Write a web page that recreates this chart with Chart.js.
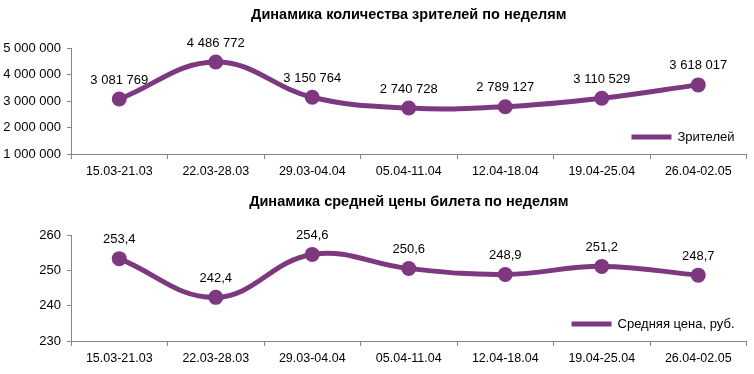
<!DOCTYPE html>
<html lang="ru">

<head>
    <meta charset="UTF-8">
    <script src="https://cdn.jsdelivr.net/npm/chart.js"></script>
    <title>Динамика по неделям</title>
    <style>
        body {
            margin: 0;
            background: #ffffff;
        }

        .box {
            position: absolute;
            left: 0;
            width: 754px;
            height: 187px;
        }
    </style>
</head>

<body>
    <div class="box" style="top: 0px;"><canvas id="viewersChart"></canvas></div>
    <div class="box" style="top: 187px;"><canvas id="priceChart"></canvas></div>
    <script>
        const weeks = ['15.03-21.03', '22.03-28.03', '29.03-04.04', '05.04-11.04', '12.04-18.04', '19.04-25.04', '26.04-02.05'];
        const viewers = [3081769, 4486772, 3150764, 2740728, 2789127, 3110529, 3618017];
        const avgPrice = [253.4, 242.4, 254.6, 250.6, 248.9, 251.2, 248.7];
        const viewersTicks = [1000000, 2000000, 3000000, 4000000, 5000000];
        const priceTicks = [230, 240, 250, 260];

        const purple = '#7d3880';
        const axisGray = '#868686';
        const fontName = "'Liberation Sans', Arial, sans-serif";

        function spaced(v) {
            return String(v).replace(/\B(?=(\d{3})+(?!\d))/g, ' ');
        }
        function comma(v) {
            return v.toFixed(1).replace('.', ',');
        }

        // подписи значений над точками
        const valueLabels = {
            id: 'valueLabels',
            afterDatasetsDraw(chart, args, opts) {
                const ctx = chart.ctx;
                const meta = chart.getDatasetMeta(0);
                ctx.save();
                ctx.font = '13px ' + fontName;
                ctx.fillStyle = '#000000';
                ctx.textAlign = 'center';
                ctx.textBaseline = 'middle';
                meta.data.forEach(function (pt, i) {
                    ctx.fillText(opts.format(chart.data.datasets[0].data[i]), pt.x, pt.y - 19);
                });
                ctx.restore();
            }
        };

        // легенда внутри области графика, справа снизу
        const innerLegend = {
            id: 'innerLegend',
            afterDraw(chart) {
                const ctx = chart.ctx;
                const area = chart.chartArea;
                const text = chart.data.datasets[0].label;
                ctx.save();
                ctx.font = '13px ' + fontName;
                const w = ctx.measureText(text).width;
                const right = area.right - 12;
                const y = area.bottom - 17;
                ctx.fillStyle = '#000000';
                ctx.textAlign = 'right';
                ctx.textBaseline = 'middle';
                ctx.fillText(text, right, y);
                ctx.strokeStyle = purple;
                ctx.lineWidth = 5;
                ctx.beginPath();
                ctx.moveTo(right - w - 46, y);
                ctx.lineTo(right - w - 6, y);
                ctx.stroke();
                ctx.restore();
            }
        };

        function makeChart(id, title, label, values, ticks, format) {
            return new Chart(document.getElementById(id), {
                type: 'line',
                data: {
                    labels: weeks,
                    datasets: [{
                        label: label,
                        data: values,
                        borderColor: purple,
                        backgroundColor: purple,
                        borderWidth: 5,
                        pointRadius: 7.5,
                        pointHoverRadius: 7.5,
                        pointBorderWidth: 0,
                        tension: 0.4,
                        clip: false
                    }]
                },
                options: {
                    responsive: true,
                    maintainAspectRatio: false,
                    animation: false,
                    layout: { padding: { left: 0, right: 5, top: 0, bottom: 3 } },
                    plugins: {
                        legend: { display: false },
                        tooltip: { enabled: false },
                        title: {
                            display: true,
                            text: title,
                            fullSize: false,
                            color: '#000000',
                            font: { family: fontName, size: 14.5, weight: 'bold' },
                            padding: { top: 6, bottom: 25 }
                        },
                        valueLabels: { format: format }
                    },
                    scales: {
                        x: {
                            offset: true,
                            grid: { offset: true, drawOnChartArea: false, tickLength: 5, color: axisGray },
                            border: { color: axisGray },
                            ticks: { color: '#000000', padding: 5, maxRotation: 0, font: { family: fontName, size: 12.5 } }
                        },
                        y: {
                            min: ticks[0],
                            max: ticks[ticks.length - 1],
                            afterFit(scale) { scale.width = 71; },
                            afterBuildTicks(scale) { scale.ticks = ticks.map(v => ({ value: v })); },
                            grid: { drawOnChartArea: false, tickLength: 4, color: axisGray },
                            border: { color: axisGray },
                            ticks: {
                                color: '#000000',
                                padding: 6,
                                font: { family: fontName, size: 13 },
                                callback: v => spaced(v)
                            }
                        }
                    }
                },
                plugins: [valueLabels, innerLegend]
            });
        }

        makeChart('viewersChart', 'Динамика количества зрителей по неделям', 'Зрителей', viewers, viewersTicks, spaced);
        makeChart('priceChart', 'Динамика средней цены билета по неделям', 'Средняя цена, руб.', avgPrice, priceTicks, comma);
    </script>
</body>

</html>
